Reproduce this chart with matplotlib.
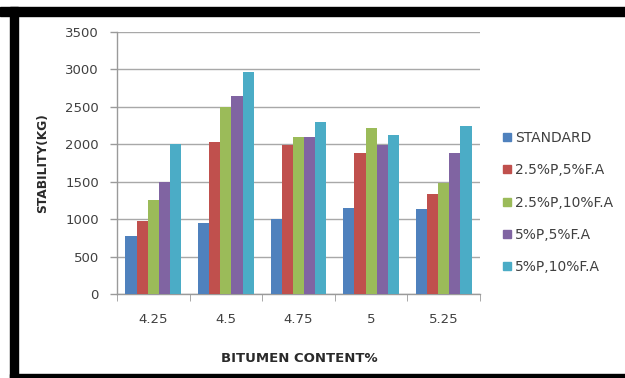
import matplotlib
matplotlib.use("Agg")
import matplotlib.pyplot as plt
import numpy as np
from matplotlib.patches import Rectangle
from matplotlib.lines import Line2D

categories = ["4.25", "4.5", "4.75", "5", "5.25"]
series_names = ["STANDARD", "2.5%P,5%F.A", "2.5%P,10%F.A", "5%P,5%F.A", "5%P,10%F.A"]
standard = [780, 950, 1000, 1150, 1140]
p25_fa5 = [980, 2030, 1990, 1890, 1330]
p25_fa10 = [1250, 2500, 2100, 2220, 1480]
p5_fa5 = [1500, 2650, 2100, 1990, 1890]
p5_fa10 = [2000, 2960, 2300, 2130, 2240]
y_ticks = [0, 500, 1000, 1500, 2000, 2500, 3000, 3500]

series = [standard, p25_fa5, p25_fa10, p5_fa5, p5_fa10]
colors = ["#4F81BD", "#C0504D", "#9BBB59", "#8064A2", "#4BACC6"]

plt.rcParams['font.family'] = ['DejaVu Sans']
text_color = "#404040"

fig = plt.figure(figsize=(6.25, 3.78), dpi=100)
W, H = 625, 378
ax = fig.add_axes([117 / W, (H - 294) / H, (480 - 117) / W, (294 - 32) / H])

x = np.arange(len(categories))
group = 1 / 1.3
bw = group / len(series)
for i, (vals, c) in enumerate(zip(series, colors)):
    ax.bar(x - group / 2 + bw * (i + 0.5), vals, width=bw, color=c, label=series_names[i], zorder=3)

ax.set_xlim(-0.5, len(categories) - 0.5)
ax.set_ylim(0, 3500)
ax.set_yticks(y_ticks)
ax.set_yticklabels([str(v) for v in y_ticks], fontsize=9.5, color=text_color)
ax.set_xticks(x)
ax.set_xticklabels(categories, fontsize=9.5, color=text_color)
ax.tick_params(axis='x', length=0, pad=14)
ax.tick_params(axis='y', length=5, color="#9a9a9a", width=1, pad=8)
ax.set_xticks(np.arange(-0.5, len(categories), 1), minor=True)
ax.tick_params(axis='x', which='minor', length=5, color="#9a9a9a")
ax.yaxis.grid(True, color="#a8a8a8", linewidth=1, zorder=0)
ax.set_axisbelow(True)
for s in ["top", "right"]:
    ax.spines[s].set_visible(False)
for s in ["left", "bottom"]:
    ax.spines[s].set_color("#9a9a9a")
    ax.spines[s].set_linewidth(1)

fig.text(43 / W, (H - 163) / H, "STABILITY(KG)", rotation=90, ha='center', va='center',
         fontsize=8.8, fontweight='bold', color="#2a2a2a")
fig.text(299 / W, (H - 358) / H, "BITUMEN CONTENT%", ha='center', va='center',
         fontsize=9.5, fontweight='bold', color="#2a2a2a")

handles = [Line2D([0], [0], marker='s', linestyle='none', markersize=5.5, color=c) for c in colors]
fig.legend(handles, series_names, loc='upper left', bbox_to_anchor=(503 / W, (H - 131) / H),
           frameon=False, fontsize=10, labelspacing=1.32, handlelength=0.6, handletextpad=0.25,
           borderpad=0, borderaxespad=0, labelcolor=text_color)

# black frame around the picture
fig.add_artist(Rectangle((0, (H - 16) / H), 1, 9 / H, transform=fig.transFigure, color='black', zorder=10))
fig.add_artist(Rectangle((10 / W, 0), 8 / W, (H - 7) / H, transform=fig.transFigure, color='black', zorder=10))
fig.add_artist(Rectangle((10 / W, 0), 1 - 10 / W, 4 / H, transform=fig.transFigure, color='black', zorder=10))

fig.savefig("out.png", dpi=100)
